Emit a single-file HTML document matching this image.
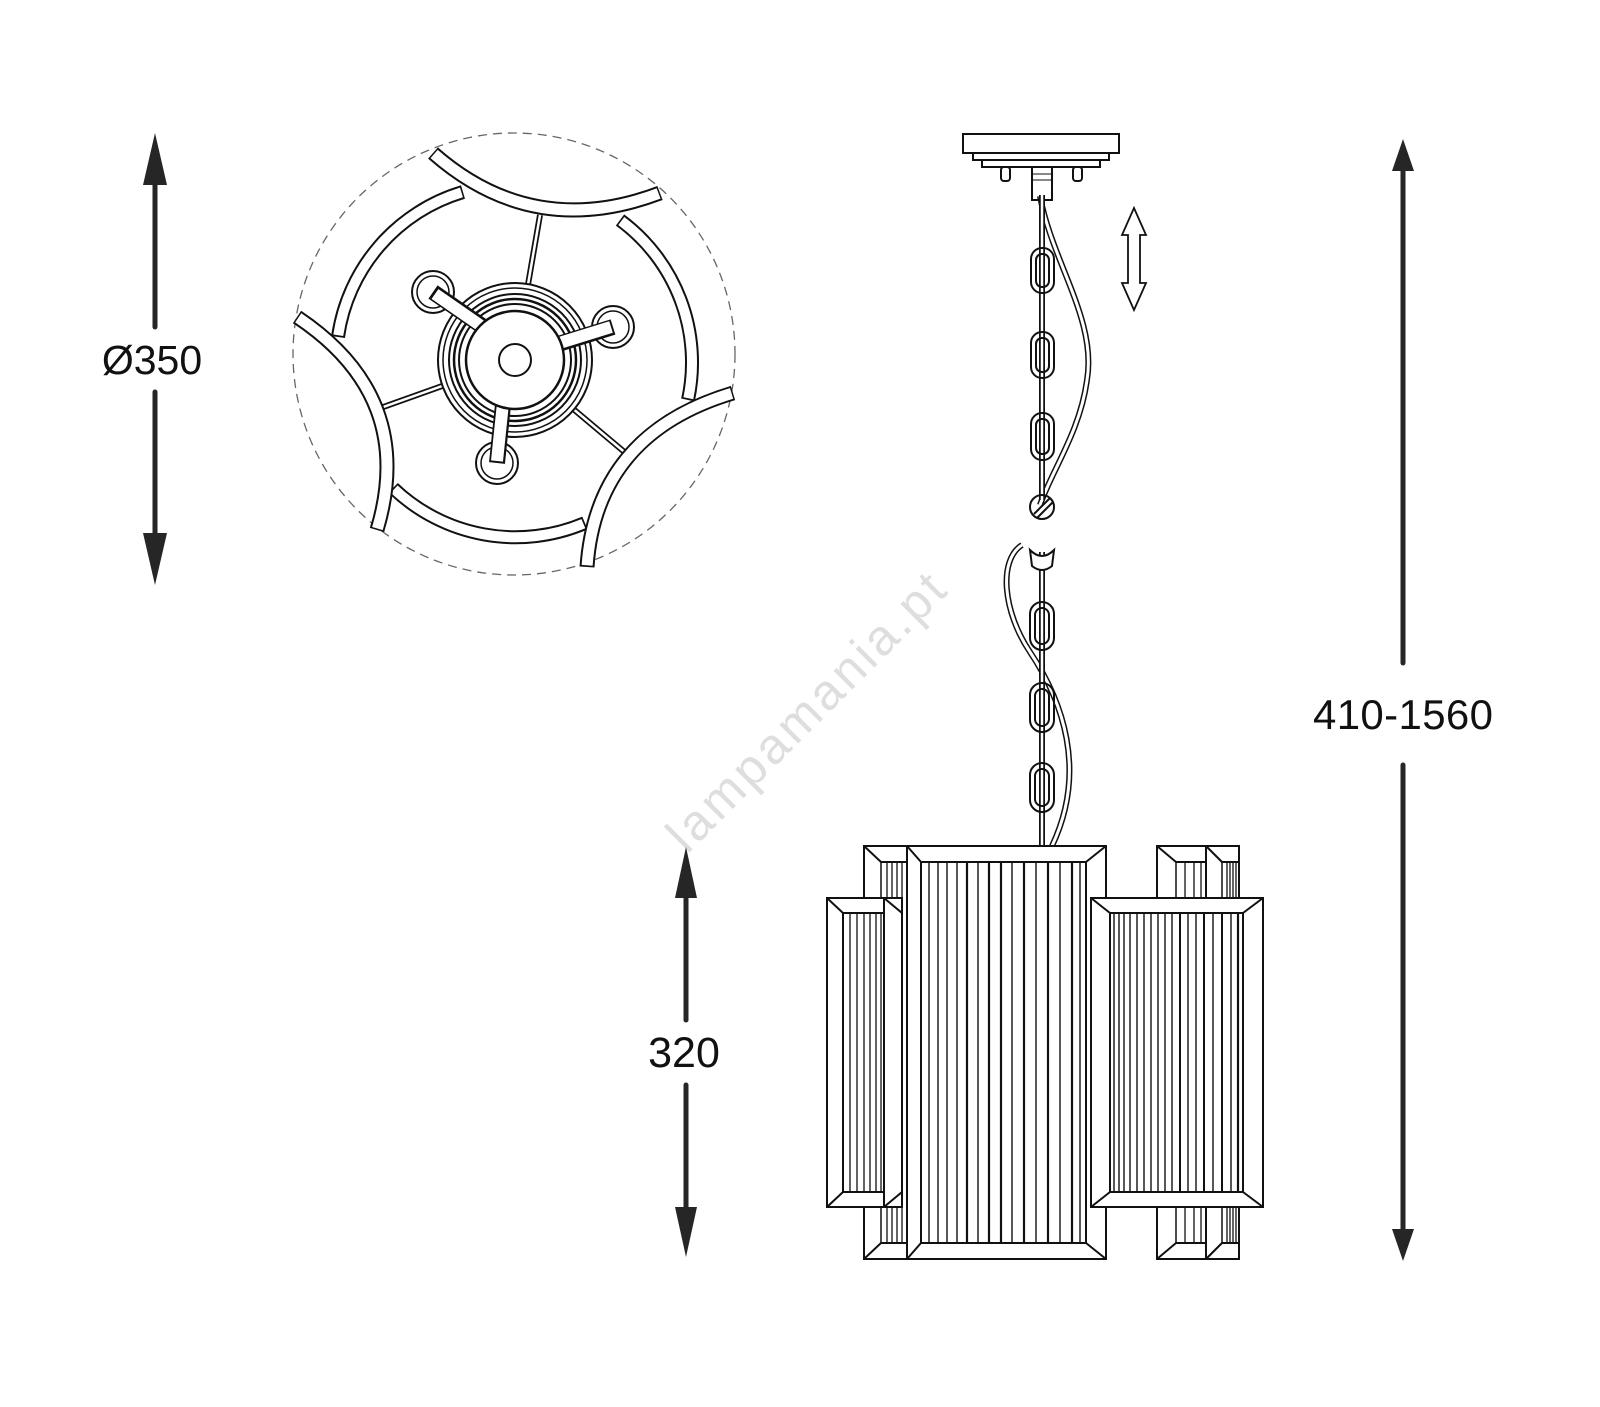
<!DOCTYPE html>
<html><head><meta charset="utf-8"><style>html,body{margin:0;padding:0;background:#fff}svg{display:block}</style></head>
<body>
<svg width="1600" height="1407" viewBox="0 0 1600 1407" xmlns="http://www.w3.org/2000/svg" font-family="Liberation Sans, sans-serif">
<rect width="1600" height="1407" fill="#fff"/>
<!-- watermark -->
<text x="808" y="728" font-size="50" fill="#dedede" text-anchor="middle" transform="rotate(-45 808 714)" textLength="370">lampamania.pt</text>

<!-- dimensions -->
<g fill="#262626" stroke="#262626">
<line x1="155" y1="180" x2="155" y2="327" stroke-width="5" stroke-linecap="round"/>
<polygon points="155,133 143,185 167,185" stroke="none"/>
<line x1="155" y1="392" x2="155" y2="540" stroke-width="5" stroke-linecap="round"/>
<polygon points="155,585 143,533 167,533" stroke="none"/>
<line x1="686" y1="890" x2="686" y2="1020" stroke-width="5" stroke-linecap="round"/>
<polygon points="686,847 675,898 697,898" stroke="none"/>
<line x1="686" y1="1085" x2="686" y2="1212" stroke-width="5" stroke-linecap="round"/>
<polygon points="686,1257 675,1207 697,1207" stroke="none"/>
<line x1="1403" y1="165" x2="1403" y2="663" stroke-width="5" stroke-linecap="round"/>
<polygon points="1403,139 1392,171 1414,171" stroke="none"/>
<line x1="1403" y1="765" x2="1403" y2="1230" stroke-width="5" stroke-linecap="round"/>
<polygon points="1403,1261 1392,1229 1414,1229" stroke="none"/>
</g>
<g fill="#111" font-weight="normal">
<text x="152" y="374" font-size="41" text-anchor="middle">Ø350</text>
<text x="684" y="1067" font-size="43" text-anchor="middle">320</text>
<text x="1403" y="729" font-size="42" text-anchor="middle" textLength="180">410-1560</text>
</g>

<!-- top view -->
<circle cx="514" cy="354" r="221" fill="none" stroke="#666" stroke-width="1.3" stroke-dasharray="9,6"/>
<g fill="none" stroke-linecap="butt">
 <g stroke="#111" stroke-width="6"><line x1="515" y1="360" x2="540" y2="215"/><line x1="515" y1="360" x2="375" y2="410"/><line x1="515" y1="360" x2="628" y2="455"/></g>
 <g stroke="#fff" stroke-width="2.5"><line x1="515" y1="360" x2="540" y2="215"/><line x1="515" y1="360" x2="375" y2="410"/><line x1="515" y1="360" x2="628" y2="455"/></g>
 <g stroke="#111" stroke-width="14">
  <path d="M463,192 A177 177 0 0 0 338,337"/>
  <path d="M620,220 A177 177 0 0 1 688,400"/>
  <path d="M393,488 A177 177 0 0 0 585,523"/>
 </g>
 <g stroke="#fff" stroke-width="10" stroke-dasharray="0 0.8 98.4 0.8">
  <path pathLength="100" d="M463,192 A177 177 0 0 0 338,337"/>
  <path pathLength="100" d="M620,220 A177 177 0 0 1 688,400"/>
  <path pathLength="100" d="M393,488 A177 177 0 0 0 585,523"/>
 </g>
 <g stroke="#111" stroke-width="15">
  <path d="M433,153 Q533,241 660,193"/>
  <path d="M297,317 Q417,397 377,530"/>
  <path d="M733,393 Q596,434 587,567"/>
 </g>
 <g stroke="#fff" stroke-width="11" stroke-dasharray="0 0.6 98.8 0.6">
  <path pathLength="100" d="M433,153 Q533,241 660,193"/>
  <path pathLength="100" d="M297,317 Q417,397 377,530"/>
  <path pathLength="100" d="M733,393 Q596,434 587,567"/>
 </g>
</g>
<!-- hub -->
<g stroke="#111" fill="#fff">
 <circle cx="515" cy="360" r="77" stroke-width="2"/>
 <circle cx="515" cy="360" r="72" stroke-width="1.5"/>
 <circle cx="515" cy="360" r="66" stroke-width="2"/>
 <circle cx="515" cy="360" r="61" stroke-width="2.5"/>
 <circle cx="515" cy="360" r="56" stroke-width="2"/>
 <circle cx="433" cy="292" r="21" stroke-width="2"/><circle cx="433" cy="292" r="16" stroke-width="1.5"/>
 <circle cx="613" cy="327" r="21" stroke-width="2"/><circle cx="613" cy="327" r="16" stroke-width="1.5"/>
 <circle cx="497" cy="463" r="21" stroke-width="2"/><circle cx="497" cy="463" r="16" stroke-width="1.5"/>
 <line x1="433" y1="292" x2="495" y2="335" stroke-width="16" stroke-linecap="butt" />
 <line x1="613" y1="327" x2="555" y2="345" stroke-width="16"/>
 <line x1="497" y1="463" x2="503" y2="405" stroke-width="16"/>
</g>
<g stroke="#fff" stroke-width="12">
 <line x1="435" y1="294" x2="497" y2="337"/>
 <line x1="611" y1="327" x2="553" y2="345"/>
 <line x1="497" y1="461" x2="503" y2="403"/>
</g>
<circle cx="515" cy="360" r="49" fill="#fff" stroke="#111" stroke-width="2.5"/>
<circle cx="515" cy="360" r="16" fill="#fff" stroke="#111" stroke-width="2"/>

<!-- canopy -->
<g stroke="#111" stroke-width="2" fill="#fff">
 <rect x="963" y="134" width="156" height="19"/>
 <rect x="973" y="153" width="136" height="7"/>
 <rect x="982" y="160" width="118" height="7"/>
 <rect x="1001" y="167" width="9" height="14" rx="3"/>
 <rect x="1073" y="167" width="9" height="14" rx="3"/>
 <rect x="1032" y="167" width="20" height="33"/>
 <line x1="1032" y1="174" x2="1052" y2="174" stroke-width="1"/>
 <line x1="1032" y1="180" x2="1052" y2="180" stroke-width="1"/>
</g>
<polygon points="1134,208 1146,235 1140,235 1140,283 1146,283 1134,310 1122,283 1128,283 1128,235 1122,235" fill="#fff" stroke="#111" stroke-width="1.8"/>

<!-- upper chain -->
<g fill="none" stroke="#111">
 <path d="M1040,196 C1052,262 1097,320 1087,380 C1080,432 1052,470 1040,505" stroke-width="6"/>
 <path d="M1040,196 C1052,262 1097,320 1087,380 C1080,432 1052,470 1040,505" stroke="#fff" stroke-width="3"/>
 <line x1="1042" y1="195" x2="1042" y2="500" stroke-width="6"/>
 <line x1="1042" y1="195" x2="1042" y2="500" stroke="#fff" stroke-width="2.5"/>
</g>
<g fill="none" stroke="#111" stroke-width="2">
 <rect x="1031" y="248" width="23" height="45" rx="11"/><rect x="1036" y="254" width="13" height="33" rx="6"/>
 <rect x="1031" y="332" width="23" height="46" rx="11"/><rect x="1036" y="338" width="13" height="34" rx="6"/>
 <rect x="1031" y="413" width="23" height="47" rx="11"/><rect x="1036" y="419" width="13" height="35" rx="6"/>
 <circle cx="1042" cy="507" r="12"/><line x1="1034" y1="514" x2="1050" y2="498"/><line x1="1037" y1="518" x2="1053" y2="502"/>
</g>

<!-- lower chain -->
<g fill="none" stroke="#111">
 <path d="M1022,545 C998,560 1003,612 1030,652 C1062,700 1088,770 1052,846" stroke-width="6"/>
 <path d="M1022,545 C998,560 1003,612 1030,652 C1062,700 1088,770 1052,846" stroke="#fff" stroke-width="3"/>
 <line x1="1042" y1="552" x2="1042" y2="846" stroke-width="6"/>
 <line x1="1042" y1="552" x2="1042" y2="846" stroke="#fff" stroke-width="2.5"/>
</g>
<g fill="none" stroke="#111" stroke-width="2">
 <path d="M1030,550 Q1042,562 1054,550 L1052,566 Q1042,574 1032,566 Z" fill="#fff"/>
 <rect x="1030" y="602" width="24" height="48" rx="12"/><rect x="1035" y="608" width="14" height="36" rx="7"/>
 <rect x="1030" y="683" width="24" height="49" rx="12"/><rect x="1035" y="689" width="14" height="37" rx="7"/>
 <rect x="1030" y="763" width="24" height="49" rx="12"/><rect x="1035" y="769" width="14" height="37" rx="7"/>
</g>

<!-- lamp shade -->
<g stroke="#111" stroke-width="2" fill="#fff">
 <rect x="864" y="846" width="43" height="413"/>
 <line x1="864" y1="846" x2="881" y2="862"/><line x1="864" y1="1259" x2="881" y2="1243"/>
 <line x1="881" y1="862" x2="907" y2="862"/><line x1="881" y1="1243" x2="907" y2="1243"/>
 <line x1="881" y1="862" x2="881" y2="1243" stroke-width="1.5"/>
 <rect x="1157" y="846" width="49" height="413"/>
 <rect x="1206" y="846" width="33" height="413"/>
 <line x1="1157" y1="846" x2="1176" y2="862"/><line x1="1157" y1="1259" x2="1176" y2="1243"/>
 <line x1="1176" y1="862" x2="1206" y2="862"/><line x1="1176" y1="1243" x2="1206" y2="1243"/>
 <line x1="1176" y1="862" x2="1176" y2="1243" stroke-width="1.5"/>
 <line x1="1206" y1="846" x2="1222" y2="862"/><line x1="1206" y1="1259" x2="1222" y2="1243"/>
 <line x1="1222" y1="862" x2="1239" y2="862"/><line x1="1222" y1="1243" x2="1239" y2="1243"/>
 <line x1="1222" y1="862" x2="1222" y2="1243" stroke-width="1.5"/>
</g>
<g stroke="#111" stroke-width="1.3">
 <line x1="887" y1="862" x2="887" y2="1243"/><line x1="892" y1="862" x2="892" y2="1243"/><line x1="897" y1="862" x2="897" y2="1243"/><line x1="902" y1="862" x2="902" y2="1243"/>
 <line x1="1185" y1="862" x2="1185" y2="1243"/><line x1="1194" y1="862" x2="1194" y2="1243"/><line x1="1201" y1="862" x2="1201" y2="1243"/>
 <line x1="1227" y1="862" x2="1227" y2="1243"/><line x1="1230" y1="862" x2="1230" y2="1243"/><line x1="1233" y1="862" x2="1233" y2="1243"/><line x1="1236" y1="862" x2="1236" y2="1243"/>
</g>
<g stroke="#111" stroke-width="2" fill="#fff">
 <rect x="907" y="846" width="199" height="413"/>
 <rect x="921" y="862" width="165" height="381"/>
 <line x1="907" y1="846" x2="921" y2="862"/><line x1="1106" y1="846" x2="1086" y2="862"/>
 <line x1="907" y1="1259" x2="921" y2="1243"/><line x1="1106" y1="1259" x2="1086" y2="1243"/>
</g>
<g stroke="#111" stroke-width="1.4">
 <line x1="929" y1="862" x2="929" y2="1243"/><line x1="938" y1="862" x2="938" y2="1243"/><line x1="947" y1="862" x2="947" y2="1243"/><line x1="957" y1="862" x2="957" y2="1243"/>
 <line x1="967" y1="862" x2="967" y2="1243" stroke-width="2.2"/><line x1="978" y1="862" x2="978" y2="1243"/><line x1="989" y1="862" x2="989" y2="1243" stroke-width="2.2"/>
 <line x1="1001" y1="862" x2="1001" y2="1243" stroke-width="2.2"/><line x1="1012" y1="862" x2="1012" y2="1243"/><line x1="1024" y1="862" x2="1024" y2="1243" stroke-width="2.2"/>
 <line x1="1036" y1="862" x2="1036" y2="1243"/><line x1="1048" y1="862" x2="1048" y2="1243" stroke-width="2.2"/><line x1="1060" y1="862" x2="1060" y2="1243"/>
 <line x1="1072" y1="862" x2="1072" y2="1243" stroke-width="2.2"/><line x1="1080" y1="862" x2="1080" y2="1243"/>
</g>
<g stroke="#111" stroke-width="2" fill="#fff">
 <rect x="884" y="898" width="18" height="309"/>
 <line x1="884" y1="898" x2="902" y2="913"/><line x1="884" y1="1207" x2="902" y2="1192"/>
 <rect x="827" y="898" width="57" height="309"/>
 <rect x="843" y="913" width="41" height="279"/>
 <line x1="827" y1="898" x2="843" y2="913"/><line x1="827" y1="1207" x2="843" y2="1192"/>
</g>
<g stroke="#111" stroke-width="1.3">
 <line x1="850" y1="913" x2="850" y2="1192"/><line x1="857" y1="913" x2="857" y2="1192"/><line x1="864" y1="913" x2="864" y2="1192"/><line x1="870" y1="913" x2="870" y2="1192"/><line x1="876" y1="913" x2="876" y2="1192"/><line x1="881" y1="913" x2="881" y2="1192"/>
</g>
<g stroke="#111" stroke-width="2" fill="#fff">
 <rect x="1091" y="898" width="172" height="309"/>
 <rect x="1110" y="913" width="133" height="279"/>
 <line x1="1091" y1="898" x2="1110" y2="913"/><line x1="1263" y1="898" x2="1243" y2="913"/>
 <line x1="1091" y1="1207" x2="1110" y2="1192"/><line x1="1263" y1="1207" x2="1243" y2="1192"/>
</g>
<g stroke="#111" stroke-width="1.4">
 <line x1="1114" y1="913" x2="1114" y2="1192"/><line x1="1119" y1="913" x2="1119" y2="1192"/><line x1="1124" y1="913" x2="1124" y2="1192"/><line x1="1130" y1="913" x2="1130" y2="1192"/>
 <line x1="1137" y1="913" x2="1137" y2="1192"/><line x1="1144" y1="913" x2="1144" y2="1192"/><line x1="1151" y1="913" x2="1151" y2="1192"/><line x1="1158" y1="913" x2="1158" y2="1192"/>
 <line x1="1165" y1="913" x2="1165" y2="1192"/><line x1="1172" y1="913" x2="1172" y2="1192"/><line x1="1180" y1="913" x2="1180" y2="1192" stroke-width="2"/><line x1="1188" y1="913" x2="1188" y2="1192"/>
 <line x1="1196" y1="913" x2="1196" y2="1192"/><line x1="1204" y1="913" x2="1204" y2="1192" stroke-width="2"/><line x1="1213" y1="913" x2="1213" y2="1192"/><line x1="1222" y1="913" x2="1222" y2="1192" stroke-width="2"/>
 <line x1="1231" y1="913" x2="1231" y2="1192"/><line x1="1238" y1="913" x2="1238" y2="1192" stroke-width="2.2"/>
</g>
</svg>
</body></html>
